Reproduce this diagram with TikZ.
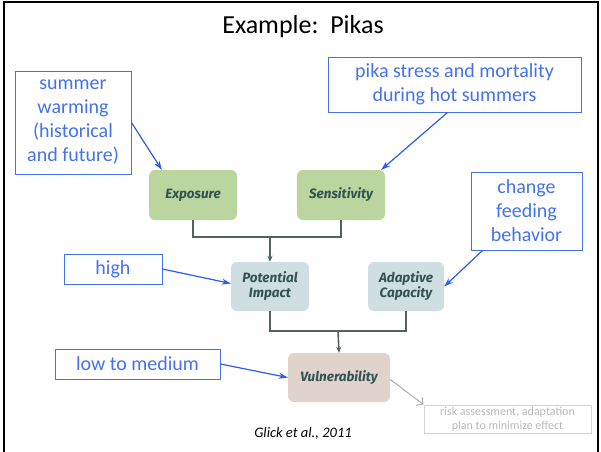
\documentclass[tikz,border=0pt]{standalone}
\usepackage{fontspec}
\setmainfont{Carlito}
\newfontfamily\stagefont{Fira Sans}
\usetikzlibrary{arrows.meta, positioning}
\definecolor{noteblue}{RGB}{68,114,236}
\definecolor{arrowblue}{RGB}{45,90,240}
\definecolor{expgreen}{RGB}{186,213,158}
\definecolor{impblue}{RGB}{206,222,225}
\definecolor{vulbeige}{RGB}{223,211,203}
\definecolor{stagetext}{RGB}{50,82,84}
\definecolor{linkgrey}{RGB}{85,96,96}

\begin{document}
\begin{tikzpicture}[x=1pt, y=-1pt,
  note/.style={rectangle, draw=noteblue, text=noteblue, line width=0.9pt, align=center, font=\fontsize{20}{24}\selectfont, inner sep=1pt},
  stage/.style={rectangle, rounded corners=6pt, minimum height=50pt, align=center, text=stagetext, font=\stagefont\bfseries\itshape\fontsize{13.5}{15}\selectfont},
  pointer/.style={-{Stealth[length=9pt, width=6pt]}, arrowblue, line width=1.2pt},
  link/.style={linkgrey, line width=1.6pt},
  linkarrow/.style={link, -{Stealth[length=6pt, width=5pt]}},
]
  \useasboundingbox (0,0) rectangle (601,451);
  % slide frame
  \draw[line width=2.5pt] (4,460) -- (4,2) -- (598,2) -- (598,460);

  \node[font=\fontsize{26}{30}\selectfont] (title) at (303,27) {Example:\ \ Pikas};

  % framework boxes
  \node[stage, fill=expgreen, minimum width=88pt] (expo) at (193,195) {Exposure};
  \node[stage, fill=expgreen, minimum width=88pt] (sens) at (341,195) {Sensitivity};
  \node[stage, fill=impblue, minimum width=78pt, minimum height=49pt] (impact) at (270,286.5) {Potential\\Impact};
  \node[stage, fill=impblue, minimum width=76pt, minimum height=49pt] (adapt) at (406,286.5) {Adaptive\\Capacity};
  \node[stage, fill=vulbeige, minimum width=102pt, minimum height=49pt] (vul) at (339,377.5) {Vulnerability};

  \coordinate (join1) at (270,237);
  \coordinate (join2) at (338,331);
  \draw[link] (expo.south) |- (join1) -| (sens.south);
  \draw[linkarrow] (join1) -- (impact.north);
  \draw[link] (impact.south) |- (join2) -| (adapt.south);
  \draw[linkarrow] (join2) -- (vul.north);

  % notes
  \node[note, minimum width=116pt, minimum height=103pt] (warm) at (73,122.5) {summer\\warming\\(historical\\and future)};
  \node[note, minimum width=253pt, minimum height=55pt] (stress) at (454.5,84.5) {pika stress and mortality\\during hot summers};
  \node[note, minimum width=111pt, minimum height=78pt] (feed) at (526.5,211) {change\\feeding\\behavior};
  \node[note, minimum width=98pt, minimum height=30pt] (high) at (113,269) {high};
  \node[note, minimum width=165pt, minimum height=30pt] (low) at (137.5,364) {low to medium};

  \draw[pointer] (warm.east) -- ([xshift=13pt]expo.north west);
  \draw[pointer] ([xshift=-7pt]stress.south) -- ([xshift=-4pt]sens.north east);
  \draw[pointer] ([xshift=12pt]feed.south west) -- (adapt.east);
  \draw[pointer] (high.east) -- ([yshift=3pt]impact.west);
  \draw[pointer] (low.east) -- (vul.west);

  % outcome and source
  \node[rectangle, draw=gray!35, line width=0.8pt, text=gray!55, align=center, minimum width=167pt, minimum height=28pt, inner sep=1pt, font=\fontsize{12}{14}\selectfont] (risk) at (507.5,419) {risk assessment, adaptation\\plan to minimize effect};
  \draw[gray!65, line width=1pt, -{Straight Barb[length=5pt]}] ([yshift=-2pt]vul.east) -- (risk.north west);

  \node[font=\itshape\fontsize{14.5}{17}\selectfont] (cite) at (303,433) {Glick et al., 2011};
\end{tikzpicture}
\end{document}
